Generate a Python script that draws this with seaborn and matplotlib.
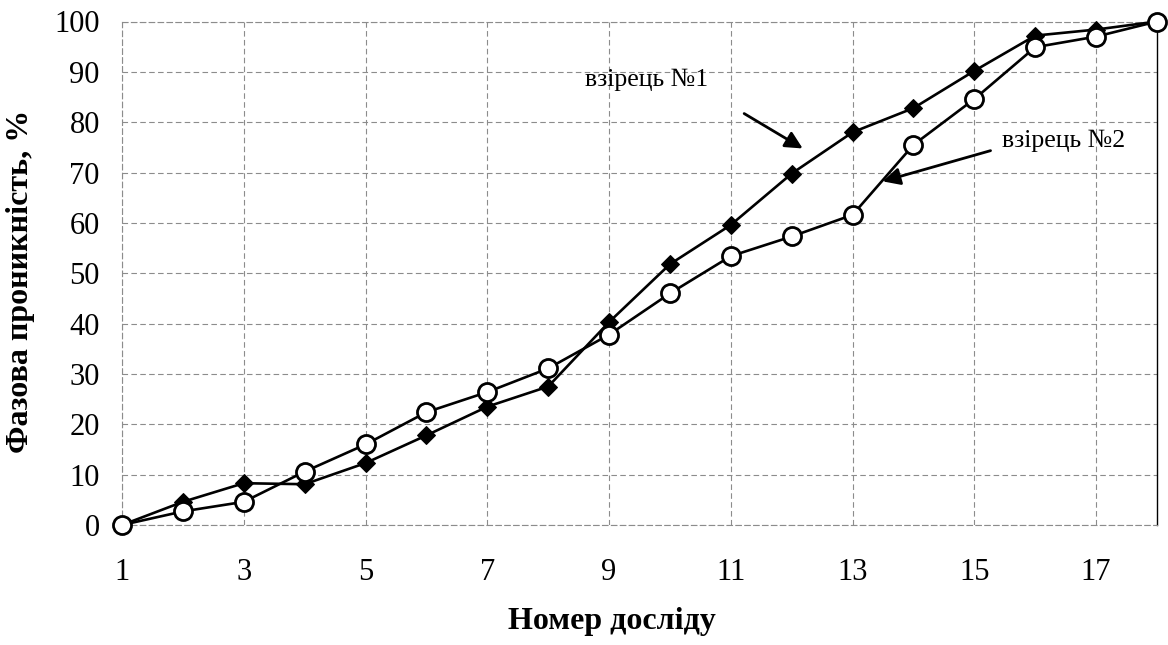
import matplotlib
matplotlib.use("Agg")
import matplotlib.pyplot as plt
import seaborn as sns
import pandas as pd

# номер досліду
experiments = list(range(1, 19))
# взірець №1 (ромби) та взірець №2 (кола), %
sample1 = [0, 4.6, 8.3, 8.1, 12.3, 17.8, 23.5, 27.5, 40.3, 51.8,
           59.6, 69.8, 78.0, 82.8, 90.2, 97.2, 98.4, 100]
sample2 = [0, 2.7, 4.6, 10.6, 16.0, 22.4, 26.4, 31.1, 37.8, 46.0,
           53.4, 57.3, 61.6, 75.5, 84.6, 94.9, 97.0, 100]
x_ticks = [1, 3, 5, 7, 9, 11, 13, 15, 17]
y_ticks = list(range(0, 101, 10))

df = pd.DataFrame({"exp": experiments, "s1": sample1, "s2": sample2})

sns.set_style("white")
plt.rcParams["font.family"] = ["Liberation Serif", "DejaVu Serif"]
plt.rcParams["text.color"] = "black"
plt.rcParams["axes.labelcolor"] = "black"

fig = plt.figure(figsize=(11.68, 6.45), dpi=100)
ax = fig.add_axes([122 / 1168, 120 / 645, 1035 / 1168, 503.5 / 645])

sns.lineplot(data=df, x="exp", y="s1", ax=ax, color="black", linewidth=1.9,
             marker="D", markersize=9.5, markerfacecolor="black",
             markeredgecolor="black", zorder=3, clip_on=False)
sns.lineplot(data=df, x="exp", y="s2", ax=ax, color="black", linewidth=1.9,
             marker="o", markersize=13, markerfacecolor="white",
             markeredgecolor="black", markeredgewidth=2, zorder=4,
             clip_on=False)

ax.set_xlim(1, 18)
ax.set_ylim(0, 100)
ax.set_xticks(x_ticks)
ax.set_yticks(y_ticks)
ax.grid(True, color="#8c8c8c", linewidth=0.8, linestyle=(0, (5, 3)))

# рамка: праворуч суцільна, інші як сітка
for s in ["left", "top", "bottom"]:
    ax.spines[s].set_color("#8c8c8c")
    ax.spines[s].set_linewidth(0.8)
    ax.spines[s].set_linestyle((0, (5, 3)))
ax.spines["right"].set_color("black")
ax.spines["right"].set_linewidth(1.0)

ax.tick_params(axis="y", labelsize=22, length=7, color="#777777",
               labelcolor="black", pad=9)
ax.tick_params(axis="x", labelsize=22, length=5, color="#777777",
               labelcolor="black", pad=19)

ax.set_xlabel("Номер досліду", fontsize=23, fontweight="bold")
ax.set_ylabel("Фазова проникність, %", fontsize=23, fontweight="bold")
ax.xaxis.set_label_coords(0.473, -0.162)
ax.yaxis.set_label_coords(-0.084, 0.483)

# підписи кривих
ax.text(9.62, 88.4, "взірець №1", fontsize=18.5, ha="center", va="center")
ax.annotate("", xy=(12.22, 74.5), xytext=(11.18, 82.0),
            arrowprops=dict(arrowstyle="-|>", color="black", lw=2,
                            mutation_scale=26))
ax.text(16.46, 76.3, "взірець №2", fontsize=18.5, ha="center", va="center")
ax.annotate("", xy=(13.45, 68.1), xytext=(15.31, 74.5),
            arrowprops=dict(arrowstyle="-|>", color="black", lw=2,
                            mutation_scale=26))

fig.savefig("out.png", dpi=100)
